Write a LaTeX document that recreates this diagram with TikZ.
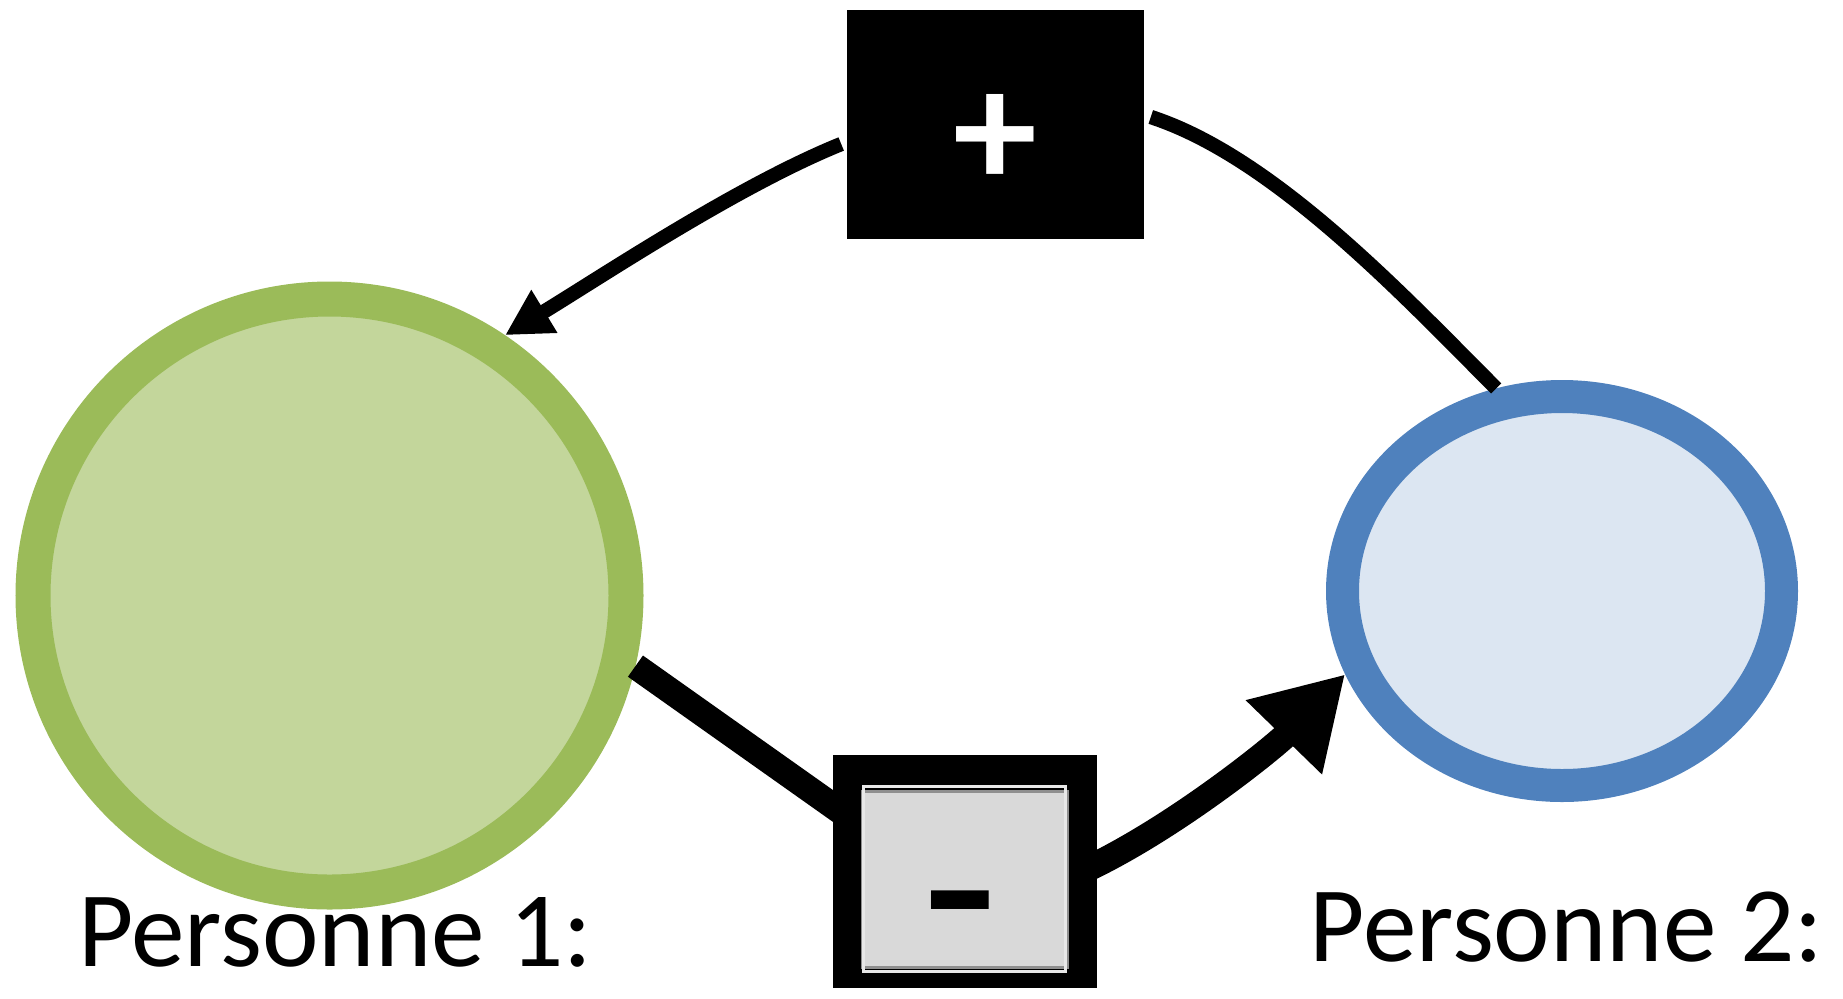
\documentclass[tikz,border=0pt]{standalone}
\usepackage{fontspec}
\setmainfont{Carlito}
\usetikzlibrary{arrows.meta,shapes.geometric}
\definecolor{grnline}{HTML}{9BBB59}
\definecolor{grnfill}{HTML}{C3D69B}
\definecolor{bluline}{HTML}{4F81BD}
\definecolor{blufill}{HTML}{DCE6F2}
\definecolor{panelfill}{HTML}{D9D9D9}
\definecolor{panelrim}{HTML}{8F8F8F}
\definecolor{panellight}{HTML}{E8E8E8}
\begin{document}
\begin{tikzpicture}[x=0.25pt,y=-0.25pt,
  person1/.style={circle, draw=grnline, fill=grnfill, line width=8.75pt, minimum size=148.25pt, inner sep=0pt},
  person2/.style={ellipse, draw=bluline, fill=blufill, line width=8.25pt, minimum width=109.75pt, minimum height=97.25pt, inner sep=0pt},
  plusbox/.style={rectangle, fill=black, minimum width=74.25pt, minimum height=57.25pt, inner sep=0pt},
  minusbox/.style={rectangle, fill=black, minimum width=66pt, minimum height=58.25pt, inner sep=0pt},
  minuspanel/.style={rectangle, fill=panelfill, draw=panelrim, line width=0.75pt, minimum width=51.25pt, minimum height=44pt, inner sep=0pt},
  lbl/.style={inner sep=0pt, font=\fontsize{26.8pt}{32pt}\selectfont},
  linkthin/.style={line width=3.6pt},
  linkthick/.style={line width=6.5pt},
  headsmall/.style={-{Triangle[length=11.5pt,width=11.75pt]}},
  headbig/.style={-{Triangle[length=22pt,width=25pt]}}
]
\path[use as bounding box] (0,0) rectangle (1843,998);

% nodes
\node[person1] (p1) at (329.5,595.5) {};
\node[person2] (p2) at (1562,591) {};
\node[plusbox] (plus) at (995.5,124.5) {};
\node[inner sep=0pt, text=white, font=\bfseries\fontsize{42pt}{48pt}\selectfont] (plussign) at (995.5,141) {+};
\node[minusbox] (m) at (965,871.5) {};
\node[minuspanel] (mp) at (964.5,879) {};
\draw[panellight, line width=0.75pt] ([shift={(3,-3)}]mp.north west) rectangle ([shift={(-3,3)}]mp.south east);
\node[inner sep=0pt, anchor=base, font=\bfseries\fontsize{45pt}{50pt}\selectfont] (minussign) at (960,951) {\scalebox{1.3}[1]{-}};
\node[lbl, anchor=base west] (t1) at (77.5,966) {Personne 1:};
\node[lbl, anchor=base west] (t2) at (1309,961) {Personne 2:};

% connectors
\draw[linkthin, headsmall] ([shift={(-5,19.5)}]plus.west) .. controls +(-104,42) and +(94,-57) .. (p1.56);
\draw[linkthin] ([shift={(6,-7.5)}]plus.east) .. controls +(123.6,40.2) and +(-92,-92) .. (p2.108);
\draw[linkthick] (p1.-13) -- ([shift={(10,-59)}]m.west);
\draw[linkthick, headbig] ([xshift=-4]m.east) .. controls +(91,-42) and +(-70,72) .. (p2.-159);
\end{tikzpicture}
\end{document}
